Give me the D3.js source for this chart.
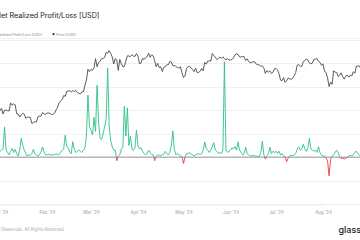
<!DOCTYPE html>
<meta charset="utf-8">
<style>
body { margin: 0; background: #fff; }
svg { display: block; font-family: Inter, "Open Sans", sans-serif; }
.grid line { stroke: #f0f0f0; }
.xaxis text { fill: #9a9a9a; font-size: 4.5px; }
</style>
<body>
<div id="chart"></div>
<script src="https://cdn.jsdelivr.net/npm/d3@7"></script>
<script>

// first day of the series, one value per day after it
var startDay = "2023-12-29";

// BTC price (USD, thousands), daily close
var price = [
  41.9, 42.1, 42.3,
  44.2, 44.9, 42.8, 44.2, 44.2, 44.0, 43.9, 47.0, 46.1, 46.6, 46.3, 42.9, 42.8, 41.7, 42.5, 43.1,
  42.7, 41.3, 41.6, 41.7, 41.6, 39.5, 39.8, 40.1, 40.0, 41.8, 42.1, 42.0, 43.3, 42.9, 42.6,
  43.1, 43.2, 43.0, 42.6, 42.7, 43.1, 44.3, 45.3, 47.1, 47.8, 48.3, 50.0, 49.7, 51.8, 52.0,
  52.1, 51.6, 52.1, 51.8, 52.2, 51.3, 51.0, 50.7, 51.6, 51.7, 54.5, 57.1, 62.5, 61.2,
  62.4, 62.0, 63.1, 68.3, 63.8, 66.1, 66.9, 68.3, 68.5, 69.0, 72.1, 71.5, 73.1, 71.4, 69.4,
  65.3, 68.4, 67.6, 61.9, 67.9, 65.5, 63.8, 64.0, 67.2, 70.0, 69.9, 69.5, 70.7, 69.9, 69.6, 71.3,
  69.7, 65.4, 65.9, 68.5, 67.8, 68.9, 69.4, 71.6, 69.1, 70.6, 70.0, 67.1, 63.8, 65.7, 63.4,
  63.8, 61.3, 63.5, 63.8, 64.9, 64.9, 66.8, 66.4, 64.3, 64.5, 64.0, 63.4, 63.1, 63.8, 60.6,
  58.3, 59.1, 62.9, 63.9, 64.0, 63.2, 62.3, 61.2, 63.1, 60.8, 60.8, 61.5, 62.9, 61.6, 66.2,
  65.2, 67.0, 67.0, 66.9, 71.4, 70.1, 69.1, 67.9, 68.5, 69.3, 68.5, 69.4, 68.3, 67.6, 68.4, 67.5,
  67.7, 67.8, 68.8, 70.6, 71.1, 70.8, 69.3, 69.3, 69.6, 69.5, 67.3, 68.2, 66.7, 66.0, 66.2,
  66.6, 66.5, 65.2, 64.9, 64.8, 64.1, 64.2, 63.2, 60.3, 61.8, 60.9, 61.6, 60.3, 60.9, 62.7,
  62.9, 62.1, 60.2, 57.0, 56.7, 58.2, 55.9, 56.7, 58.0, 57.7, 57.3, 57.9, 59.2, 60.8, 64.7,
  65.0, 64.1, 63.9, 66.7, 67.2, 68.2, 67.6, 65.9, 65.4, 65.8, 67.9, 68.0, 68.3, 66.8, 66.2, 64.6,
  65.4, 61.5, 60.7, 58.1, 54.0, 56.0, 55.0, 61.7, 60.9, 60.9, 58.7, 59.4, 60.6, 58.7, 57.5,
  58.9, 59.5, 58.4, 59.5, 59.0, 61.2, 60.4, 64.1, 64.2, 64.2, 62.8, 59.4
];

// net realized profit/loss (USD, billions), daily
var nrpl = [
  0.2, 0.3, 0.25,
  0.25, 0.3, 0.35, 1.29, 0.3, 0.2, 0.1, 0.25, 0.37, 0.2, 0.33, 0.15, 0.05, 0.3, 0.8, 0.5,
  0.3, 0.15, 0.05, 0.1, 0.08, 0.15, 0.33, 0.15, 0.1, 0.05, 0.1, 0.2, 0.44, 0.25, 0.1,
  0.1, 0.12, 0.1, 0.08, 0.12, 0.1, 0.15, 0.1, 0.12, 0.2, 0.3, 0.35, 0.94, 0.45, 0.4,
  0.2, 0.15, 0.66, 0.35, 0.2, 0.25, 0.3, 0.25, 0.2, 0.3, 0.4, 0.9, 2.65, 1.3,
  1.15, 0.95, 1.7, 1.1, 3.07, 1.5, 0.8, 0.75, 1.0, 1.3, 1.6, 3.8, 1.3, 0.7, 0.45,
  0.3, 0.3, -0.15, 0.05, 0.1, 0.35, 0.4, 2.17, 0.9, 2.1, 0.5, 0.9, 0.35, 0.3, 0.4, 1.15,
  0.5, 0.35, 0.4, 0.25, 0.15, 0.1, 0.15, 0.3, 0.2, 0.12, 0.1, -0.15, 0.05, 0.1, 0.08,
  0.05, 0.1, 0.12, 0.25, 0.15, 0.1, 0.2, 0.5, 1.12, 0.3, 0.1, 0.15, 0.1, 0.05, 0.03,
  -0.27, 0.02, 0.15, 0.15, 0.2, 0.12, 0.1, 0.05, 0.1, 0.12, 0.15, 0.12, 0.15, 0.3, 0.65,
  0.35, 0.3, 0.2, 0.3, 0.45, 0.62, 0.3, 0.25, 0.15, 0.2, 0.15, 0.3, 4.07, 0.3, 0.2, 0.25,
  0.3, 0.4, 0.35, 0.45, 0.3, 0.65, 0.3, 0.2, 0.1, 0.15, 0.42, 0.15, 0.1, 0.05, 0.05,
  0.08, 0.05, 0.05, 0.03, 0.02, 0.2, 0.68, 0.1, -0.08, 0.05, 0.15, 0.42, 0.15, 0.25, 0.2,
  0.25, 0.15, 0.25, 0.1, 0.15, 0.05, 0.02, -0.2, -0.05, 0.05, 0.08, 0.05, 0.1, 0.15, 0.35,
  0.44, 0.3, 0.35, 0.55, 0.35, 0.25, 0.4, 0.8, 0.35, 0.3, 0.25, 0.3, 0.2, 0.44, 0.2, 0.1,
  0.05, 0.05, -0.03, -0.15, -0.8, -0.1, 0.05, 0.1, 0.2, 0.3, 0.2, 0.02, -0.06, -0.04, -0.08,
  -0.05, -0.02, 0.05, 0.08, 0.05, 0.1, 0.2, 0.26, 0.15, 0.08, 0.1, 0.1
];

var monthTicks = ["2024-01-01", "2024-02-01", "2024-03-01", "2024-04-01", "2024-05-01",
                  "2024-06-01", "2024-07-01", "2024-08-01"];
var plTicks = [-2, -1, 0, 1, 2, 3, 4, 5];

var width = 360, height = 240;
var plotTop = 40, plotBottom = 204;

var parse = d3.timeParse("%Y-%m-%d");
var t0 = parse(startDay);
var data = price.map(function(p, i) {
  return { date: d3.timeDay.offset(t0, i), price: p * 1000, pl: nrpl[i] };
});

var x = d3.scaleTime()
    .domain([parse("2024-01-01"), parse("2024-08-01")])
    .range([0, 323]);
var y = d3.scaleLinear().domain([-2, 5]).range([plotBottom, plotTop]);
var yPrice = d3.scaleLog().domain([20000, 80000]).range([plotBottom, plotTop]);

var svg = d3.select("#chart").append("svg")
    .attr("width", width)
    .attr("height", height);

// title + legend
svg.append("text")
    .attr("x", 99.5).attr("y", 18)
    .attr("text-anchor", "end")
    .style("font-size", "7.2px")
    .style("fill", "#222")
    .text("Net Realized Profit/Loss [USD]");

svg.append("text")
    .attr("x", 42).attr("y", 35.5)
    .attr("text-anchor", "end")
    .style("font-size", "3.6px")
    .style("fill", "#888")
    .text("Net Realized Profit/Loss (USD)");

svg.append("circle")
    .attr("cx", 53.5).attr("cy", 34.2).attr("r", 1.1)
    .style("fill", "#333");

svg.append("text")
    .attr("x", 56).attr("y", 35.5)
    .style("font-size", "3.6px")
    .style("fill", "#888")
    .text("Price (USD)");

svg.append("line")
    .attr("x1", 0).attr("x2", width)
    .attr("y1", 38.5).attr("y2", 38.5)
    .style("stroke", "#f2f2f2");

// gridlines
svg.append("g").attr("class", "grid")
  .selectAll("line")
  .data(plTicks)
  .enter().append("line")
    .attr("x1", 0).attr("x2", width)
    .attr("y1", function(d) { return Math.round(y(d)) + 0.5; })
    .attr("y2", function(d) { return Math.round(y(d)) + 0.5; });

// x axis
var xAxis = svg.append("g")
    .attr("class", "xaxis")
    .attr("transform", "translate(0," + (plotBottom + 0.5) + ")")
    .call(d3.axisBottom(x)
      .tickValues(monthTicks.map(parse))
      .tickFormat(d3.timeFormat("%b '%y"))
      .tickSize(3)
      .tickPadding(3));
xAxis.select(".domain").style("stroke", "#ececec");
xAxis.selectAll(".tick line").style("stroke", "#f2f2f2");
xAxis.selectAll("text").style("font-family", "Inter, sans-serif");

// price line
var priceLine = d3.line()
    .x(function(d) { return x(d.date); })
    .y(function(d) { return yPrice(d.price); });

svg.append("path")
    .datum(data)
    .attr("d", priceLine)
    .style("fill", "none")
    .style("stroke", "#4a4a4a")
    .style("stroke-width", 0.9);

// profit / loss line, green above zero, red below
var zero = y(0);
svg.append("clipPath").attr("id", "above")
  .append("rect").attr("x", -50).attr("y", 0).attr("width", 500).attr("height", zero);
svg.append("clipPath").attr("id", "below")
  .append("rect").attr("x", -50).attr("y", zero).attr("width", 500).attr("height", 100);

var plLine = d3.line()
    .x(function(d) { return x(d.date); })
    .y(function(d) { return y(d.pl); });

svg.append("path")
    .datum(data)
    .attr("d", plLine)
    .attr("clip-path", "url(#above)")
    .style("fill", "none")
    .style("stroke", "#2bc185")
    .style("stroke-width", 0.9);

svg.append("path")
    .datum(data)
    .attr("d", plLine)
    .attr("clip-path", "url(#below)")
    .style("fill", "none")
    .style("stroke", "#ee3b3b")
    .style("stroke-width", 0.9);

// zero baseline
svg.append("line")
    .attr("x1", 0).attr("x2", width)
    .attr("y1", zero).attr("y2", zero)
    .style("stroke", "#8c8c8c")
    .style("stroke-width", 0.9);

// footer
svg.append("text")
    .attr("x", 65).attr("y", 230.5)
    .attr("text-anchor", "end")
    .style("font-size", "4.3px")
    .style("fill", "#aaa")
    .text("© 2024 Glassnode. All Rights Reserved.");

svg.append("text")
    .attr("x", 338.5).attr("y", 233)
    .style("font-size", "9px")
    .style("font-weight", 500)
    .style("fill", "#1a1a1a")
    .text("glassnode");

</script>
</body>
